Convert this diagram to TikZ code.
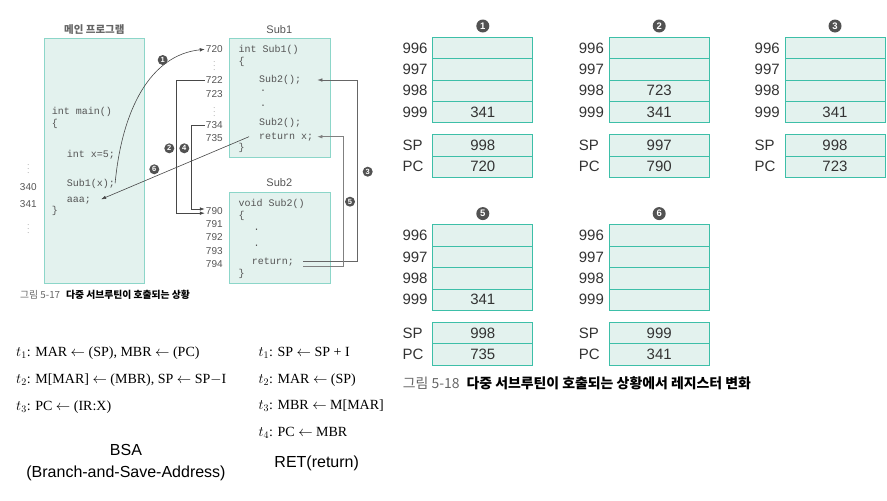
\documentclass[tikz,border=0pt]{standalone}
\usepackage{fontspec}
\setmainfont{Liberation Serif}
\newfontfamily\krfont{Noto Sans CJK KR}
\newfontfamily\arialfont{Liberation Sans}
\newfontfamily\codefont{Liberation Mono}
\usetikzlibrary{arrows.meta}
\definecolor{cellfill}{HTML}{E3F2EE}
\definecolor{cellline}{HTML}{3DBFA8}
\definecolor{codeline}{HTML}{8CD6C9}
\definecolor{inkgray}{HTML}{555555}

\begin{document}
\begin{tikzpicture}[x=1pt,y=-1pt,
    cell/.style={draw=cellline, fill=cellfill, line width=1pt, minimum width=100pt, minimum height=21.4pt, inner sep=0pt, anchor=north west},
    codebox/.style={draw=codeline, fill=cellfill, line width=1pt, inner sep=0pt, anchor=north west},
    code/.style={anchor=west, inner sep=0pt, text=inkgray, font=\codefont\fontsize{10}{10}\selectfont, text height=1.6ex, text depth=0.4ex},
    addr/.style={inner sep=1pt, text=inkgray, font=\arialfont\fontsize{10}{10}\selectfont},
    vdot/.style={inner sep=0pt, text=black!50, font=\fontsize{7.5}{7.5}\selectfont},
    boxtitle/.style={inner sep=0pt, text=inkgray, font=\arialfont\fontsize{11}{11}\selectfont},
    lab/.style={anchor=west, inner sep=0pt, text=black!80, font=\arialfont\fontsize{15}{15}\selectfont},
    val/.style={inner sep=0pt, text=black!80, font=\arialfont\fontsize{15}{15}\selectfont},
    stepno/.style={circle, fill=black!68, text=white, inner sep=0pt, minimum size=10pt, font=\arialfont\bfseries\fontsize{7.5}{7.5}\selectfont},
    bigno/.style={stepno, minimum size=13pt, font=\arialfont\bfseries\fontsize{9.5}{9.5}\selectfont},
    conn/.style={draw=black!72, line width=0.6pt},
    rtl/.style={anchor=west, inner sep=0pt, font=\fontsize{14}{16}\selectfont},
    tip/.style={-{Latex[length=5pt,width=3.6pt]}}]
    \useasboundingbox (0,0) rectangle (887,501);

    % Main program
    \node[codebox, minimum width=100pt, minimum height=245pt] (main) at (44.3,37.7) {};
    \node[inner sep=0pt, text=black!60, font=\krfont\bfseries\fontsize{10.5}{10.5}\selectfont] (mainT) at (94.3,29.3) {메인 프로그램};
    \node[code] (m1) at (51.7,111.7) {int main()};
    \node[code] (m2) at (51.7,124) {\{};
    \node[code] (m3) at (66.7,155) {int x=5;};
    \node[code] (m4) at (66.7,183.3) {Sub1(x);};
    \node[code] (m5) at (66.7,199.3) {aaa;};
    \node[code] (m6) at (51.7,210.7) {\}};
    \node[vdot] (d1) at (28.3,165.7) {$\vdots$};
    \node[addr] (a340) at (28.3,187.3) {340};
    \node[addr] (a341) at (28.3,204) {341};
    \node[vdot] (d2) at (28.3,225.7) {$\vdots$};

    % Sub1
    \node[codebox, minimum width=100.7pt, minimum height=119.3pt] (sub1) at (229.3,37.7) {};
    \node[boxtitle] (sub1T) at (279.3,29.3) {Sub1};
    \node[code] (s1) at (238.3,50) {int Sub1()};
    \node[code] (s2) at (238.3,62) {\{};
    \node[code] (s3) at (259,80) {Sub2();};
    \node[code] (s4) at (260,88.5) {.};
    \node[code] (s5) at (260,104.2) {.};
    \node[code] (s6) at (259,122.7) {Sub2();};
    \node[code] (s7) at (259,136.7) {return x;};
    \node[code] (s8) at (238.3,147.3) {\}};
    \node[addr] (a720) at (214.3,49.3) {720};
    \node[vdot] (d3) at (214.3,63.5) {$\vdots$};
    \node[addr] (a722) at (214.3,80) {722};
    \node[addr] (a723) at (214.3,94) {723};
    \node[vdot] (d4) at (214.3,109) {$\vdots$};
    \node[addr] (a734) at (214.3,125) {734};
    \node[addr] (a735) at (214.3,137.7) {735};

    % Sub2
    \node[codebox, minimum width=100.7pt, minimum height=90.4pt] (sub2) at (229.3,192.3) {};
    \node[boxtitle] (sub2T) at (279.3,182.7) {Sub2};
    \node[code] (t1) at (238.3,203.3) {void Sub2()};
    \node[code] (t2) at (238.3,216) {\{};
    \node[code] (t3) at (253.3,227.5) {.};
    \node[code] (t4) at (253.3,244.2) {.};
    \node[code] (t5) at (251.7,261.7) {return;};
    \node[code] (t6) at (238.3,274) {\}};
    \node[addr] (a790) at (214.3,210.7) {790};
    \node[addr] (a791) at (214.3,224) {791};
    \node[addr] (a792) at (214.3,237.3) {792};
    \node[addr] (a793) at (214.3,250.7) {793};
    \node[addr] (a794) at (214.3,264) {794};

    % Calls and returns
    \draw[conn,tip] (m4.east) .. controls (122,110) and (150,55) .. (a720.west);
    \draw[conn,tip] (a722.west) -- ++(-28,0) |- ([yshift=-2.5pt]a790.west);
    \draw[conn,tip] (a734.west) -- ++(-13,0) |- ([yshift=1.7pt]a790.west);
    \draw[conn,tip,draw=black!60] ([xshift=9pt]t5.east) -- ++(54,0) |- ([xshift=16pt]s3.east);
    \draw[conn,tip,draw=black!50] ([xshift=9pt,yshift=-4.5pt]t5.east) -- ++(40,0) |- ([xshift=4pt]s7.east);
    \draw[conn,tip] ([xshift=-10pt]s7.west) -- ([xshift=10pt]m5.east);
    \node[stepno] (n1) at (162.7,60) {1};
    \node[stepno] (n2) at (169.3,148.3) {2};
    \node[stepno] (n4) at (184.3,148.3) {4};
    \node[stepno] (n3) at (367.7,171.7) {3};
    \node[stepno] (n5) at (350,201.7) {5};
    \node[stepno] (n6) at (154.3,169.3) {6};

    \node[anchor=west, inner sep=0pt, font=\krfont\fontsize{9.8}{9.8}\selectfont] (cap17) at (20,295)
        {\textcolor{black!60}{그림 5-17}\hspace{0.6em}\textbf{다중 서브루틴이 호출되는 상황}};

    % Stacks
    \foreach \sx/\sy/\sn in {432.3/36.7/1, 608.7/36.7/2, 784.5/36.7/3, 432.3/224.3/5, 608.7/224.3/6}{
        \foreach \r [count=\i from 0] in {996,997,998,999}{
            \node[cell] (s\sn-\r) at ({\sx},{\sy+\i*21.4}) {};
            \node[lab] at ([xshift=-30pt]s\sn-\r.west) {\r};
        }
        \node[cell] (s\sn-sp) at ({\sx},{\sy+97.6}) {};
        \node[cell] (s\sn-pc) at ({\sx},{\sy+118.9}) {};
        \node[lab] at ([xshift=-30pt]s\sn-sp.west) {SP};
        \node[lab] at ([xshift=-30pt]s\sn-pc.west) {PC};
        \node[bigno] at ([yshift=10.7pt]s\sn-996.north) {\sn};
    }
    \foreach \c/\v in {s1-999/341, s1-sp/998, s1-pc/720,
                       s2-998/723, s2-999/341, s2-sp/997, s2-pc/790,
                       s3-999/341, s3-sp/998, s3-pc/723,
                       s5-999/341, s5-sp/998, s5-pc/735,
                       s6-sp/999, s6-pc/341}
        \node[val] at (\c) {\v};

    \node[anchor=west, inner sep=0pt, font=\krfont\fontsize{13.9}{13.9}\selectfont] (cap18) at (402.7,383.3)
        {\textcolor{black!60}{그림 5-18}\hspace{0.5em}\textbf{다중 서브루틴이 호출되는 상황에서 레지스터 변화}};

    % Micro-operations
    \node[rtl] (b1) at (16,352.7) {$t_1$: MAR $\leftarrow$ (SP), MBR $\leftarrow$ (PC)};
    \node[rtl] (b2) at (16,380) {$t_2$: M[MAR] $\leftarrow$ (MBR), SP $\leftarrow$ SP$-$I};
    \node[rtl] (b3) at (16,406.7) {$t_3$: PC $\leftarrow$ (IR:X)};
    \node[rtl] (r1) at (258.3,352.7) {$t_1$: SP $\leftarrow$ SP + I};
    \node[rtl] (r2) at (258.3,380) {$t_2$: MAR $\leftarrow$ (SP)};
    \node[rtl] (r3) at (258.3,406) {$t_3$: MBR $\leftarrow$ M[MAR]};
    \node[rtl] (r4) at (258.3,432.7) {$t_4$: PC $\leftarrow$ MBR};
    \node[align=center, inner sep=0pt, font=\arialfont\fontsize{16}{21.6}\selectfont] (bsa) at (126,462.5) {BSA\\(Branch-and-Save-Address)};
    \node[inner sep=0pt, font=\arialfont\fontsize{16}{16}\selectfont] (ret) at (316.7,463.3) {RET(return)};
\end{tikzpicture}
\end{document}
